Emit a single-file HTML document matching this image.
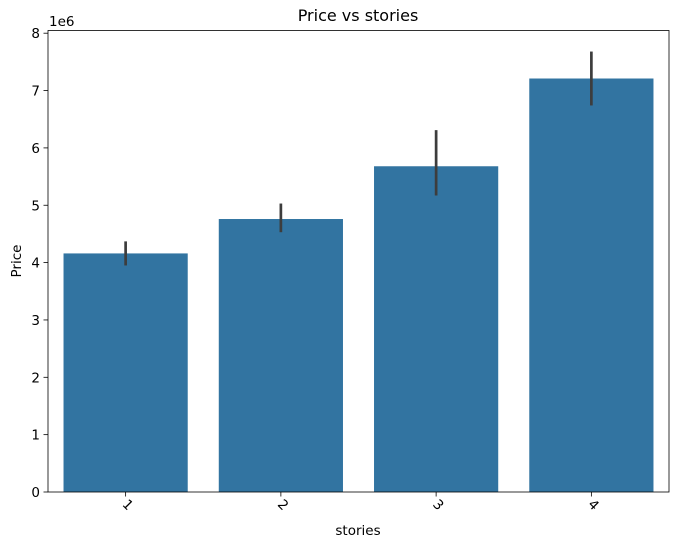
<!DOCTYPE html>
<html><head><meta charset="utf-8"><style>
body{margin:0;background:#fff;}
text{font-family:"DejaVu Sans","Liberation Sans",sans-serif;fill:#000;}
</style></head><body>
<svg id="chart" width="678" height="547" xmlns="http://www.w3.org/2000/svg">
<rect width="678" height="547" fill="#fff"/>
<g id="bars"></g><g id="axes"></g>
</svg>
<script>
const categories = ["1","2","3","4"];
const values = [4.16e6, 4.76e6, 5.68e6, 7.21e6];
const errLow = [3.95e6, 4.53e6, 5.17e6, 6.74e6];
const errHigh = [4.37e6, 5.03e6, 6.31e6, 7.68e6];
const yTicks = [0,1,2,3,4,5,6,7,8];

const L=48,R=669,T=30.5,B=492;
const NS="http://www.w3.org/2000/svg";
const svg=document.getElementById('chart');
const bars=document.getElementById('bars'),axes=document.getElementById('axes');
const band=(R-L)/categories.length;
const x=i=>L+band*(i+0.5);
const y=v=>B-(v/1e6)*57.35;
function el(t,a,p,txt){const e=document.createElementNS(NS,t);for(const k in a)e.setAttribute(k,a[k]);if(txt!==undefined)e.textContent=txt;(p||svg).appendChild(e);return e;}

categories.forEach((c,i)=>{
  const w=band*0.8;
  const r=el('rect',{x:x(i)-w/2,y:y(values[i]),width:w,height:B-y(values[i]),fill:'#3274a1'},bars);
  
  
  const l=el('line',{x1:x(i),x2:x(i),y1:y(errLow[i]),y2:y(errHigh[i]),stroke:'#3d3d3d','stroke-width':2.7},bars);
  
  
  el('line',{x1:x(i),x2:x(i),y1:B,y2:B+4.5,stroke:'#000','stroke-width':0.8},axes);
  const t=el('text',{x:0,y:0,'font-size':13.5,'text-anchor':'middle',transform:`translate(${x(i)-1},${B+16}) rotate(45)`},axes,c);
  
  
});
yTicks.forEach(v=>{
  const yy=y(v*1e6);
  el('line',{x1:L-4.5,x2:L,y1:yy,y2:yy,stroke:'#000','stroke-width':0.8},axes);
  const t=el('text',{x:L-8,y:yy+5,'font-size':13.5,'text-anchor':'end'},axes,String(v));
  
  
});
const f=el('rect',{x:L,y:T,width:R-L,height:B-T,fill:'none',stroke:'#000','stroke-width':0.8},axes);


</script>
<svg style="position:absolute;left:0;top:0" width="678" height="547">
<text x="358" y="21" font-size="16" text-anchor="middle">Price vs stories</text>
<text x="49" y="26" font-size="13.5">1e6</text>
<text x="358" y="535" font-size="13.5" text-anchor="middle">stories</text>
<text x="0" y="0" font-size="13.5" text-anchor="middle" transform="translate(21,261) rotate(-90)">Price</text>
</svg>
</body></html>
